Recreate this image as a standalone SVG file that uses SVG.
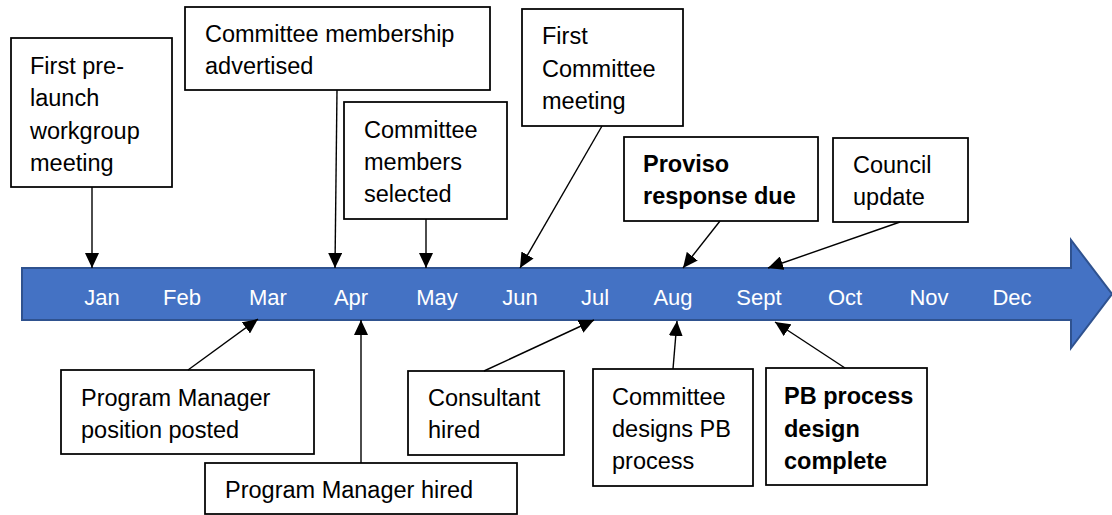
<svg xmlns="http://www.w3.org/2000/svg" width="1112" height="515" viewBox="0 0 1112 515">
<style>
.box{fill:#fff;stroke:#000;stroke-width:1.75}
.t{font-family:"Liberation Sans",Arial,sans-serif;font-size:23.5px;fill:#000}
.b{font-weight:bold}
.m{font-family:"Liberation Sans",Arial,sans-serif;font-size:22px;fill:#fff;text-anchor:middle}
.c{stroke:#000;stroke-width:1.4;fill:none;marker-end:url(#ah)}
</style>
<defs>
<marker id="ah" markerUnits="userSpaceOnUse" markerWidth="16" markerHeight="14" refX="15" refY="7" orient="auto">
<path d="M0,0 L15,7 L0,14 Z" fill="#000"/>
</marker>
</defs>
<g id="timeline">
<path d="M22,268 L1071,268 L1071,240 L1112,294 L1071,348 L1071,320 L22,320 Z" fill="#4472C4" stroke="#2F528F" stroke-width="2"/>
<text class="m" x="102" y="305">Jan</text>
<text class="m" x="182" y="305">Feb</text>
<text class="m" x="268" y="305">Mar</text>
<text class="m" x="351" y="305">Apr</text>
<text class="m" x="437" y="305">May</text>
<text class="m" x="520" y="305">Jun</text>
<text class="m" x="595" y="305">Jul</text>
<text class="m" x="673" y="305">Aug</text>
<text class="m" x="759" y="305">Sept</text>
<text class="m" x="845" y="305">Oct</text>
<text class="m" x="929" y="305">Nov</text>
<text class="m" x="1012" y="305">Dec</text>
</g>
<g id="n-prelaunch">
<rect class="box" x="11" y="38" width="161" height="149"/>
<text class="t" x="30" y="74">First pre-</text>
<text class="t" x="30" y="106">launch</text>
<text class="t" x="30" y="139">workgroup</text>
<text class="t" x="30" y="171">meeting</text>
</g>
<g id="n-advertised">
<rect class="box" x="185" y="7" width="305" height="83"/>
<text class="t" x="205" y="42">Committee membership</text>
<text class="t" x="205" y="74">advertised</text>
</g>
<g id="n-selected">
<rect class="box" x="344" y="102" width="163" height="117"/>
<text class="t" x="364" y="138">Committee</text>
<text class="t" x="364" y="170">members</text>
<text class="t" x="364" y="202">selected</text>
</g>
<g id="n-firstmeeting">
<rect class="box" x="522" y="9" width="161" height="117"/>
<text class="t" x="542" y="44">First</text>
<text class="t" x="542" y="77">Committee</text>
<text class="t" x="542" y="109">meeting</text>
</g>
<g id="n-proviso">
<rect class="box" x="624" y="137" width="194" height="84"/>
<text class="t b" x="643" y="172">Proviso</text>
<text class="t b" x="643" y="204">response due</text>
</g>
<g id="n-council">
<rect class="box" x="833" y="138" width="135" height="84"/>
<text class="t" x="853" y="173">Council</text>
<text class="t" x="853" y="205">update</text>
</g>
<g id="n-pmposted">
<rect class="box" x="61" y="370" width="253" height="84"/>
<text class="t" x="81" y="406">Program Manager</text>
<text class="t" x="81" y="438">position posted</text>
</g>
<g id="n-pmhired">
<rect class="box" x="205" y="463" width="312" height="51"/>
<text class="t" x="225" y="498">Program Manager hired</text>
</g>
<g id="n-consultant">
<rect class="box" x="408" y="371" width="156" height="84"/>
<text class="t" x="428" y="406">Consultant</text>
<text class="t" x="428" y="438">hired</text>
</g>
<g id="n-designs">
<rect class="box" x="593" y="369" width="160" height="117"/>
<text class="t" x="612" y="405">Committee</text>
<text class="t" x="612" y="437">designs PB</text>
<text class="t" x="612" y="469">process</text>
</g>
<g id="n-complete">
<rect class="box" x="766" y="368" width="161" height="117"/>
<text class="t b" x="784" y="404">PB process</text>
<text class="t b" x="784" y="437">design</text>
<text class="t b" x="784" y="469">complete</text>
</g>
<g id="connectors">
<line class="c" x1="92" y1="187" x2="92" y2="268"/>
<line class="c" x1="337" y1="90" x2="335" y2="268"/>
<line class="c" x1="426" y1="219" x2="426" y2="268"/>
<line class="c" x1="602" y1="126" x2="520" y2="268"/>
<line class="c" x1="720" y1="221" x2="683" y2="268"/>
<line class="c" x1="900" y1="222" x2="768" y2="268"/>
<line class="c" x1="188" y1="370" x2="258" y2="319"/>
<line class="c" x1="361" y1="463" x2="361" y2="320"/>
<line class="c" x1="484" y1="371" x2="594" y2="320"/>
<line class="c" x1="673" y1="369" x2="677" y2="321"/>
<line class="c" x1="845" y1="368" x2="775" y2="322"/>
</g>
</svg>
